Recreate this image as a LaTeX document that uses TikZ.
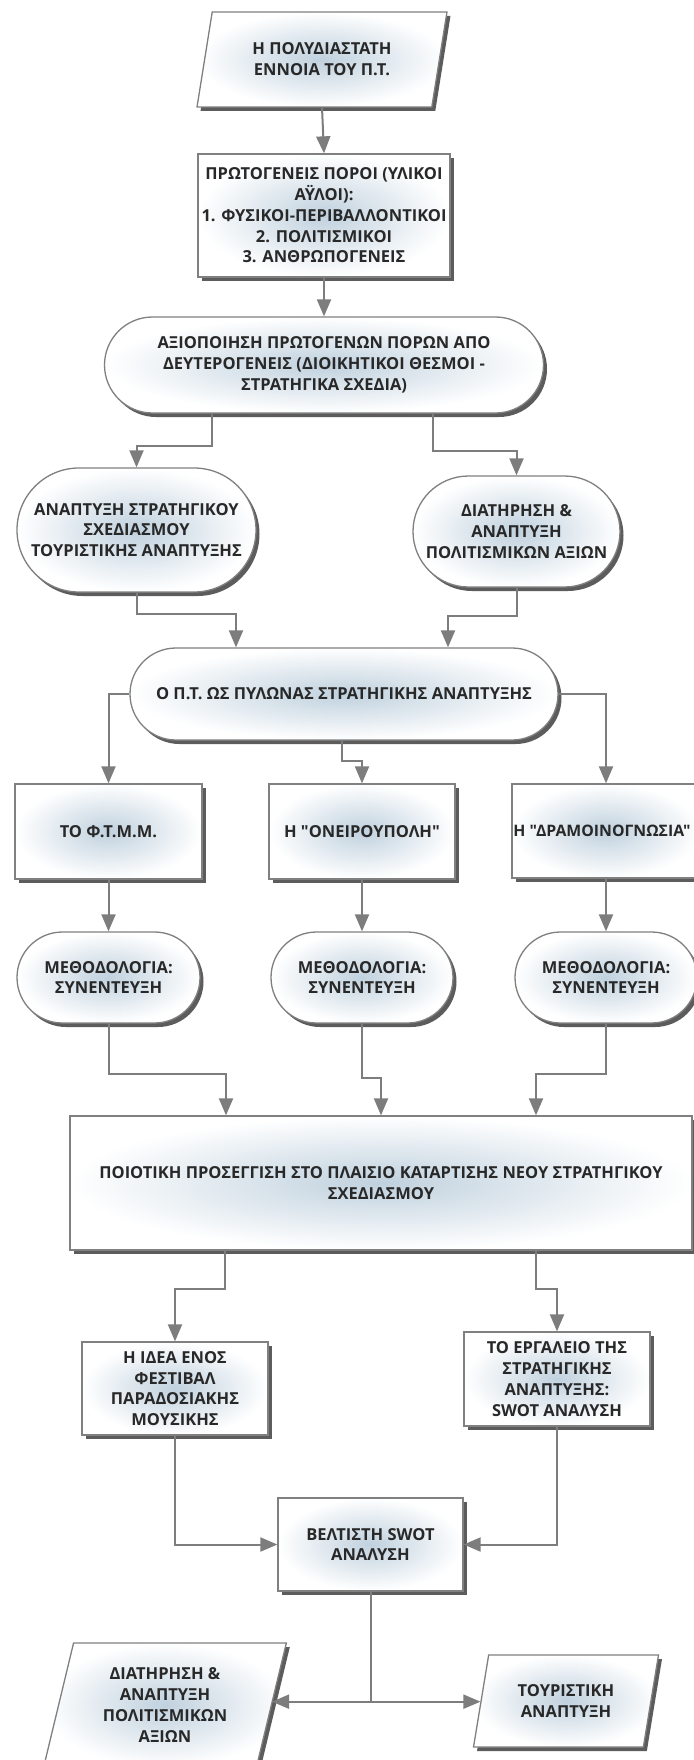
\documentclass[tikz,border=0pt]{standalone}
\usepackage{fontspec}
\setmainfont{Open Sans}[Ligatures=TeXOff]
\usetikzlibrary{shapes.misc,shapes.geometric,arrows.meta,shadows,calc}
\definecolor{bord}{RGB}{128,128,128}
\definecolor{conncol}{RGB}{125,125,125}
\definecolor{innerc}{RGB}{192,209,222}
\definecolor{txt}{RGB}{40,40,40}
\tikzset{
 base/.style={draw=bord, line width=1.3pt, inner color=innerc, outer color=white,
   drop shadow={shadow xshift=3.5pt, shadow yshift=-4pt, fill=black!75, opacity=0.85},
   text=txt, font=\fontsize{16.5}{20.8}\selectfont\bfseries, align=center, inner sep=2pt},
 box/.style={base, rectangle},
 pill/.style={base, rounded rectangle},
 pgram/.style={base, trapezium, trapezium left angle=75, trapezium right angle=105, trapezium stretches=true},
 conn/.style={draw=conncol, line width=2pt, -{Triangle[length=17pt,width=14pt]}},
 plain/.style={draw=conncol, line width=2pt},
}
\begin{document}
\begin{tikzpicture}[x=1pt,y=-1pt]
\useasboundingbox (0,0) rectangle (693,1760);
\fill[white] (0,0) rectangle (693,1760);

\node[pgram, minimum width=250pt, minimum height=95pt] (p1) at (322,59.5) {Η ΠΟΛΥΔΙΑΣΤΑΤΗ\\ΕΝΝΟΙΑ ΤΟΥ Π.Τ.};
\node[box, minimum width=252pt, minimum height=123pt] (r1) at (324,215.5) {ΠΡΩΤΟΓΕΝΕΙΣ ΠΟΡΟΙ (ΥΛΙΚΟΙ\\ΑΫΛΟΙ):\\1. ΦΥΣΙΚΟΙ-ΠΕΡΙΒΑΛΛΟΝΤΙΚΟΙ\\2. ΠΟΛΙΤΙΣΜΙΚΟΙ\\3. ΑΝΘΡΩΠΟΓΕΝΕΙΣ};
\node[pill, minimum width=443pt, minimum height=96pt] (s1) at (324,365) {ΑΞΙΟΠΟΙΗΣΗ ΠΡΩΤΟΓΕΝΩΝ ΠΟΡΩΝ ΑΠΟ\\ΔΕΥΤΕΡΟΓΕΝΕΙΣ (ΔΙΟΙΚΗΤΙΚΟΙ ΘΕΣΜΟΙ -\\ΣΤΡΑΤΗΓΙΚΑ ΣΧΕΔΙΑ)};
\node[pill, minimum width=243pt, minimum height=124pt] (s2) at (136.5,530) {ΑΝΑΠΤΥΞΗ ΣΤΡΑΤΗΓΙΚΟΥ\\ΣΧΕΔΙΑΣΜΟΥ\\ΤΟΥΡΙΣΤΙΚΗΣ ΑΝΑΠΤΥΞΗΣ};
\node[pill, minimum width=211pt, minimum height=111pt] (s3) at (516.5,531.5) {ΔΙΑΤΗΡΗΣΗ \&\\ΑΝΑΠΤΥΞΗ\\ΠΟΛΙΤΙΣΜΙΚΩΝ ΑΞΙΩΝ};
\node[pill, minimum width=432pt, minimum height=92pt] (s4) at (344,694) {Ο Π.Τ. ΩΣ ΠΥΛΩΝΑΣ ΣΤΡΑΤΗΓΙΚΗΣ ΑΝΑΠΤΥΞΗΣ};

\node[box, minimum width=187pt, minimum height=95pt] (r2) at (108.5,831.5) {ΤΟ Φ.Τ.Μ.Μ.};
\node[box, minimum width=186pt, minimum height=95pt] (r3) at (362,831.5) {Η "ΟΝΕΙΡΟΥΠΟΛΗ"};
\node[box, minimum width=188pt, minimum height=94pt, font=\fontsize{15.8}{20.8}\selectfont\bfseries] (r4) at (606,831) {\hspace*{-8pt}Η "ΔΡΑΜΟΙΝΟΓΝΩΣΙΑ"};

\node[pill, minimum width=187pt, minimum height=91pt] (s5) at (108.5,977.5) {ΜΕΘΟΔΟΛΟΓΙΑ:\\ΣΥΝΕΝΤΕΥΞΗ};
\node[pill, minimum width=186pt, minimum height=91pt] (s6) at (362,977.5) {ΜΕΘΟΔΟΛΟΓΙΑ:\\ΣΥΝΕΝΤΕΥΞΗ};
\node[pill, minimum width=186pt, minimum height=91pt] (s7) at (606,977.5) {ΜΕΘΟΔΟΛΟΓΙΑ:\\ΣΥΝΕΝΤΕΥΞΗ};

\node[box, minimum width=622pt, minimum height=134pt] (r5) at (381,1183) {ΠΟΙΟΤΙΚΗ ΠΡΟΣΕΓΓΙΣΗ ΣΤΟ ΠΛΑΙΣΙΟ ΚΑΤΑΡΤΙΣΗΣ ΝΕΟΥ ΣΤΡΑΤΗΓΙΚΟΥ\\ΣΧΕΔΙΑΣΜΟΥ};

\node[box, minimum width=186pt, minimum height=93pt] (r6) at (175,1388.5) {Η ΙΔΕΑ ΕΝΟΣ\\ΦΕΣΤΙΒΑΛ\\ΠΑΡΑΔΟΣΙΑΚΗΣ\\ΜΟΥΣΙΚΗΣ};
\node[box, minimum width=186pt, minimum height=94pt] (r7) at (557,1379) {ΤΟ ΕΡΓΑΛΕΙΟ ΤΗΣ\\ΣΤΡΑΤΗΓΙΚΗΣ\\ΑΝΑΠΤΥΞΗΣ:\\SWOT ΑΝΑΛΥΣΗ};
\node[box, minimum width=185pt, minimum height=93pt] (r8) at (370.5,1544.5) {ΒΕΛΤΙΣΤΗ SWOT\\ΑΝΑΛΥΣΗ};

\node[pgram, minimum width=243pt, minimum height=124pt] (p2) at (165,1705) {ΔΙΑΤΗΡΗΣΗ \&\\ΑΝΑΠΤΥΞΗ\\ΠΟΛΙΤΙΣΜΙΚΩΝ\\ΑΞΙΩΝ};
\node[pgram, minimum width=185pt, minimum height=92pt] (p3) at (566,1701) {ΤΟΥΡΙΣΤΙΚΗ\\ΑΝΑΠΤΥΞΗ};

% connectors
\draw[conn] (p1.south) -- (r1.north);
\draw[conn] (r1.south) -- (s1.north);
\draw[conn] ([xshift=-112pt]s1.south) -- ++(0,32) -| (s2.north);
\draw[conn] ([xshift=109pt]s1.south) -- ++(0,37) -| (s3.north);
\draw[conn] (s2.south) -- ++(0,21) -| ([xshift=-108pt]s4.north);
\draw[conn] (s3.south) -- ++(0,28) -| ([xshift=104pt]s4.north);
\draw[conn] (s4.west) -| (r2.north);
\draw[conn] ([xshift=-2pt]s4.south) -- ++(0,20) -| (r3.north);
\draw[conn] (s4.east) -| (r4.north);
\draw[conn] (r2.south) -- (s5.north);
\draw[conn] (r3.south) -- (s6.north);
\draw[conn] (r4.south) -- (s7.north);
\draw[conn] (s5.south) -- ++(0,50) -| ([xshift=-155pt]r5.north);
\draw[conn] (s6.south) -- ++(0,54) -| (r5.north);
\draw[conn] (s7.south) -- ++(0,50) -| ([xshift=155pt]r5.north);
\draw[conn] ([xshift=-156pt]r5.south) -- ++(0,38) -| (r6.north);
\draw[conn] ([xshift=155pt]r5.south) -- ++(0,38) -| (r7.north);
\draw[conn] (r6.south) |- (r8.west);
\draw[conn] (r7.south) |- (r8.east);
\draw[plain] (r8.south) -- ++(0,110) coordinate (j);
\draw[conn] (j) -- (j -| p2.east);
\draw[conn] (j) -- (j -| p3.west);
\end{tikzpicture}
\end{document}
